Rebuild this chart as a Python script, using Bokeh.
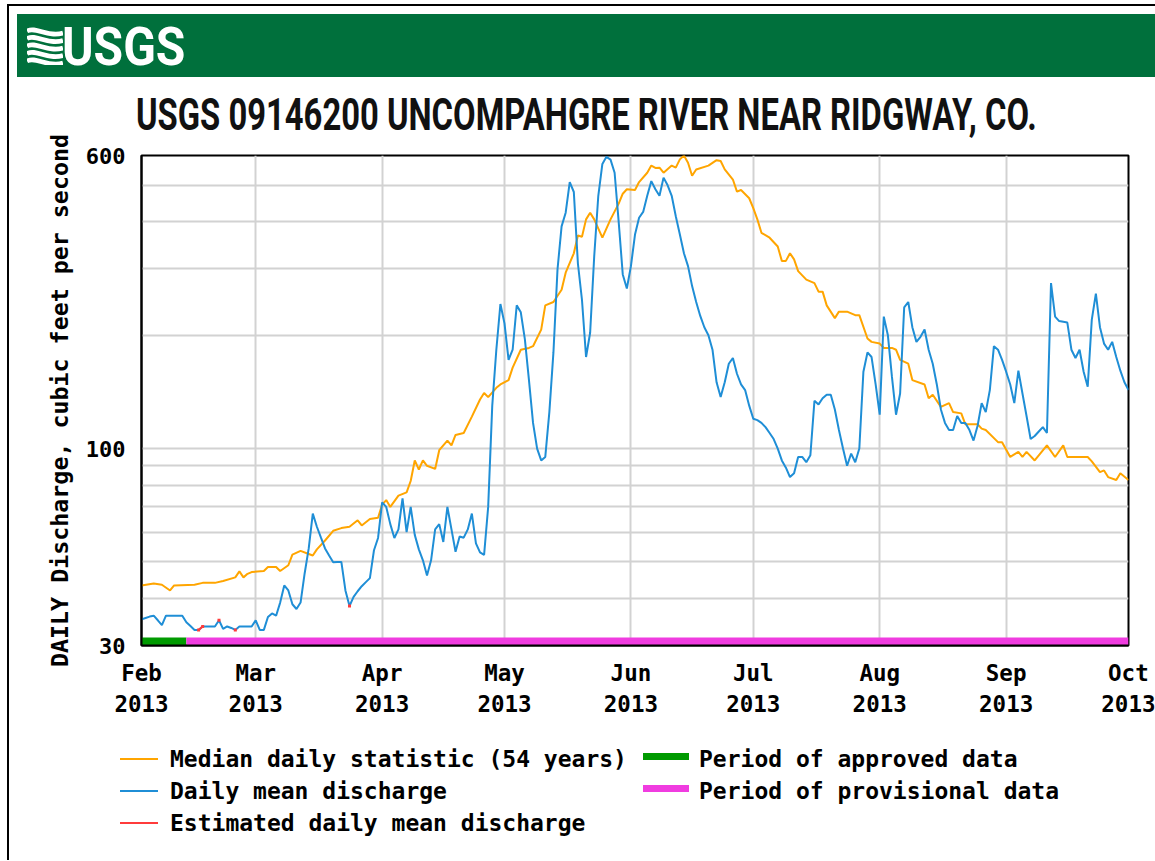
import pandas as pd
from bokeh.plotting import figure
from bokeh.layouts import column
from bokeh.models import Range1d, FixedTicker, DatetimeTickFormatter, BasicTickFormatter, Div
from bokeh.embed import file_html
from bokeh.resources import INLINE

# ---------------- data ----------------
TITLE = "USGS 09146200 UNCOMPAHGRE RIVER NEAR RIDGWAY, CO."
LOGO_TEXT = "USGS"
Y_LABEL = "DAILY Discharge, cubic feet per second"
START_DATE = "2013-02-01"
END_DATE = "2013-10-01"
month_ticks = ["2013-02-01", "2013-03-01", "2013-04-01", "2013-05-01", "2013-06-01",
               "2013-07-01", "2013-08-01", "2013-09-01", "2013-10-01"]
y_tick_labels = [30, 100, 600]
y_grid_values = [40, 50, 60, 70, 80, 90, 100, 200, 300, 400, 500]

# days since 2013-02-01 and median daily statistic (54 years), cfs
median_day = [0, 3, 5, 7, 8, 13, 15, 18, 20, 23, 24, 25, 26, 27, 30, 31, 33, 34, 36, 37,
              39, 41, 42, 43, 45, 47, 49, 51, 53, 54, 56, 58, 59, 60, 61, 63, 65, 66, 67, 68,
              69, 70, 72, 73, 75, 76, 77, 79, 81, 83, 84, 85, 87, 88, 90, 91, 93, 95, 96, 98,
              99, 101, 103, 104, 106, 107, 108, 109, 110, 111, 113, 115, 117, 118, 119, 121, 122, 124, 125, 126,
              127, 128, 130, 131, 132, 133, 134, 135, 136, 139, 141, 142, 143, 145, 146, 147, 149, 150, 151, 152,
              154, 156, 157, 158, 159, 160, 161, 163, 165, 166, 167, 168, 170, 171, 173, 175, 176, 178, 179, 181,
              182, 184, 185, 186, 188, 189, 192, 193, 194, 196, 198, 199, 201, 202, 205, 206, 207, 210, 211, 213,
              215, 216, 217, 219, 222, 224, 226, 227, 232, 233, 235, 236, 237, 239, 240, 242]
median_cfs = [43.3, 43.8, 43.5, 42, 43.3, 43.5, 44, 44, 44.5, 45.5, 47.2, 45.5, 46.5, 47, 47.3, 48.5, 48.5, 47.3, 49, 52.3,
              53.5, 52.5, 52, 54, 57, 60.5, 61.5, 62, 64.5, 62.5, 65, 65.5, 71, 73, 70, 75, 76.5, 82, 93, 88,
              93, 90, 88.3, 99, 105, 102, 108.7, 110, 121.6, 135, 140.5, 137, 145, 148, 152, 164, 183, 185, 187, 207,
              240, 245, 264, 293, 330, 368, 365, 406, 423, 406, 363, 406, 447, 475, 488, 486, 510, 540, 564, 556,
              557, 540, 564, 557, 586, 600, 574, 530, 551, 564, 583, 580, 551, 518, 481, 486, 462, 435, 406, 374,
              363, 344, 315, 315, 330, 318, 296, 281, 275, 261, 261, 240, 222, 231, 231, 226, 226, 196, 192, 190,
              185, 185, 183, 172, 168, 152, 148, 136, 139, 129, 132, 125, 124, 116, 116, 113, 112, 104, 104, 95,
              98, 95, 98, 93, 102, 95, 102, 95, 95, 92.5, 86.6, 87.5, 84, 82.5, 86, 82.5]

# days since 2013-02-01 and daily mean discharge, cfs
mean_day = list(range(0, 243))
mean_cfs = [35.2, 35.5, 35.8, 36, 35, 34, 36, 36, 36, 36, 36, 34.6, 33.8, 33, 33, 33.7, 33.7, 33.7, 33.7, 35,
            33.2, 33.7, 33.4, 33, 33.7, 33.7, 33.7, 33.7, 35, 33, 33, 35.7, 36.5, 36, 39, 43.3, 42, 38.6, 37.5, 39,
            46.6, 54.3, 67.2, 62, 58, 54.3, 52, 49.9, 50, 50, 42, 38.2, 40.4, 41.8, 43.1, 44.2, 45.3, 53.7, 57.9, 72,
            70, 63, 57.9, 61, 73.8, 60, 70, 59, 54, 50.5, 46, 50.5, 61, 63, 56.5, 70, 61, 53.2, 58.4, 58,
            61, 67.2, 56, 53, 52.2, 70, 130, 183, 242, 215, 172, 183, 240, 230, 195, 152, 117, 100, 93, 95,
            125, 180, 299, 389, 423, 510, 480, 310, 248, 175, 203, 324, 469, 570, 595, 585, 540, 400, 290, 266,
            305, 370, 410, 425, 469, 513, 488, 469, 524, 500, 469, 414, 370, 330, 305, 270, 245, 225, 210, 200,
            183, 150, 137, 150, 168, 174, 158, 148, 143, 130, 120, 119, 117, 114, 110, 106, 100, 93, 89, 84,
            86, 95, 95, 92, 96, 134, 131, 136, 139, 139, 127, 112, 100, 90, 97, 92, 100, 160, 180, 175,
            148, 123, 224, 200, 155, 123, 140, 237, 245, 210, 192, 198, 207, 183, 168, 148, 127, 117, 112, 112,
            122, 117, 117, 112, 105, 115, 132, 125, 143, 187, 183, 172, 160, 148, 132, 161, 140, 122, 106, 108,
            111, 114, 110, 275, 224, 218, 217, 216, 183, 174, 183, 160, 146, 220, 258, 210, 190, 183, 192, 175,
            161, 150, 143]

# days flagged as estimated daily mean discharge
estimated_day = [14, 15, 19, 23, 51]

# data-quality periods
approved_period = ("2013-02-01", "2013-02-12")
provisional_period = ("2013-02-12", "2013-10-01")

legend_left = ["Median daily statistic (54 years)", "Daily mean discharge", "Estimated daily mean discharge"]
legend_right = ["Period of approved data", "Period of provisional data"]

# ---------------- styling ----------------
ORANGE = "#ffa500"
BLUE = "#1f8ed6"
RED = "#ff3b3b"
GREEN = "#009a00"
PINK = "#f03ce0"
USGS_GREEN = "#00703c"
MONO = "DejaVu Sans Mono"
W = 1155
HEADER_H = 134
FRAME_T, FRAME_B = 155, 645
FIG_H = 596
LEGEND_TOP = HEADER_H + FIG_H
LEGEND_H = 130
LEGEND_FONT = 23  # px

base = pd.Timestamp(START_DATE)


def to_dates(days):
    return base + pd.to_timedelta(pd.Series(days), unit="D")


median_dates = to_dates(median_day)
mean_dates = to_dates(mean_day)
est_dates = to_dates(estimated_day)
est_cfs = [mean_cfs[mean_day.index(d)] for d in estimated_day]

# ---------------- header (HTML) ----------------
waves = "".join(
    '<path d="M0 {a} C 9 {b}, 21 {c}, 36 {d}" stroke="white" stroke-width="4.6" fill="none"/>'.format(
        a=4 + 7.5 * i, b=-1 + 7.5 * i, c=11 + 7.5 * i, d=6 + 7.5 * i)
    for i in range(5))
header_html = f"""
<div style="position:relative;width:{W}px;height:{HEADER_H}px;">
  <div style="position:absolute;left:17px;top:14px;width:{W - 17}px;height:63px;background:{USGS_GREEN};"></div>
  <svg style="position:absolute;left:27px;top:27px;" width="36" height="38" viewBox="0 0 36 38">{waves}</svg>
  <div style="position:absolute;left:62px;top:16px;white-space:nowrap;color:white;
              font-family:Roboto;font-weight:bold;font-size:53px;line-height:normal;
              transform:scaleX(0.905);transform-origin:left top;">{LOGO_TEXT}</div>
  <div style="position:absolute;left:136px;top:88px;white-space:nowrap;color:#111111;
              font-family:Roboto;font-weight:bold;font-size:45px;line-height:normal;
              transform:scaleX(0.728);transform-origin:left top;">{TITLE}</div>
</div>
"""
header = Div(text=header_html, width=W, height=HEADER_H, margin=(0, 0, 0, 0))

# ---------------- main chart ----------------
p = figure(width=W, height=FIG_H, x_axis_type="datetime", y_axis_type="log",
           x_range=Range1d(pd.Timestamp(START_DATE), pd.Timestamp(END_DATE)),
           y_range=Range1d(30, 600), output_backend="svg", toolbar_location=None,
           min_border_left=141, min_border_right=W - 1128,
           min_border_top=FRAME_T - HEADER_H, min_border_bottom=FIG_H - (FRAME_B - HEADER_H),
           margin=(0, 0, 0, 0))
p.border_fill_color = None
p.background_fill_color = "white"

p.quad(left=[pd.Timestamp(approved_period[0])], right=[pd.Timestamp(approved_period[1])],
       bottom=30, top=31.5, fill_color=GREEN, line_color=None)
p.quad(left=[pd.Timestamp(provisional_period[0])], right=[pd.Timestamp(provisional_period[1])],
       bottom=30, top=31.5, fill_color=PINK, line_color=None)

p.line(median_dates, median_cfs, line_color=ORANGE, line_width=2)
p.line(mean_dates, mean_cfs, line_color=BLUE, line_width=2)
p.line(est_dates[:2], est_cfs[:2], line_color=RED, line_width=2)
p.scatter(est_dates, est_cfs, marker="square", size=3, fill_color=RED, line_color=None)

tick_ms = [pd.Timestamp(s).timestamp() * 1000.0 for s in month_ticks]
p.xaxis.ticker = FixedTicker(ticks=tick_ms)
fmt = "%b\n%Y"
p.xaxis.formatter = DatetimeTickFormatter(milliseconds=fmt, seconds=fmt, minsec=fmt, minutes=fmt,
                                          hourmin=fmt, hours=fmt, days=fmt, months=fmt, years=fmt)
p.yaxis.ticker = FixedTicker(ticks=y_tick_labels)
p.yaxis.formatter = BasicTickFormatter()
p.ygrid.ticker = FixedTicker(ticks=y_grid_values)

for ax in (p.xaxis, p.yaxis):
    ax.major_tick_in = 0
    ax.major_tick_out = 0
    ax.minor_tick_in = 0
    ax.minor_tick_out = 0
    ax.axis_line_color = "black"
    ax.axis_line_width = 2
    ax.major_label_text_font = MONO
    ax.major_label_text_font_style = "bold"
    ax.major_label_text_color = "black"

p.xaxis.major_label_text_font_size = "22.5px"
p.xaxis.major_label_standoff = 14
p.yaxis.major_label_text_font_size = "22px"
p.yaxis.major_label_standoff = 16
p.yaxis.axis_label = Y_LABEL
p.yaxis.axis_label_text_font = MONO
p.yaxis.axis_label_text_font_style = "bold"
p.yaxis.axis_label_text_font_size = "23.3px"
p.yaxis.axis_label_text_color = "black"
p.yaxis.axis_label_standoff = 10

p.xgrid.grid_line_color = "#d2d2d2"
p.ygrid.grid_line_color = "#d2d2d2"
p.xgrid.grid_line_width = 2
p.ygrid.grid_line_width = 2
p.outline_line_color = "black"
p.outline_line_width = 2


# ---------------- legend (HTML) ----------------
def swatch(x, y, w, h, color):
    return (f'<div style="position:absolute;left:{x}px;top:{y - LEGEND_TOP}px;width:{w}px;'
            f'height:{h}px;background:{color};"></div>')


def legend_text(x, baseline, text):
    ascent = 0.928 * LEGEND_FONT
    return (f'<div style="position:absolute;left:{x}px;top:{baseline - ascent - LEGEND_TOP:.1f}px;'
            f'white-space:nowrap;font-family:\'{MONO}\';font-weight:bold;font-size:{LEGEND_FONT}px;'
            f'line-height:normal;color:black;">{text}</div>')


legend_parts = [
    swatch(120, 758, 38, 2, ORANGE), swatch(120, 790, 38, 2, BLUE), swatch(120, 822, 38, 2, RED),
    swatch(643, 753, 46, 7, GREEN), swatch(643, 785, 46, 7, PINK),
]
for txt, bl in zip(legend_left, [767, 799, 831]):
    legend_parts.append(legend_text(170, bl, txt))
for txt, bl in zip(legend_right, [767, 799]):
    legend_parts.append(legend_text(699, bl, txt))
legend_html = (f'<div style="position:relative;width:{W}px;height:{LEGEND_H}px;">'
               + "".join(legend_parts) + "</div>")
legend = Div(text=legend_html, width=W, height=LEGEND_H, margin=(0, 0, 0, 0))

page_border = ("linear-gradient(black, black) 7px 4px / 2px 100% no-repeat, "
               "linear-gradient(black, black) 7px 4px / 1148px 2px no-repeat, white")
layout = column(header, p, legend, spacing=0, styles={"background": page_border})
open("out.html", "w").write(file_html(layout, INLINE))
